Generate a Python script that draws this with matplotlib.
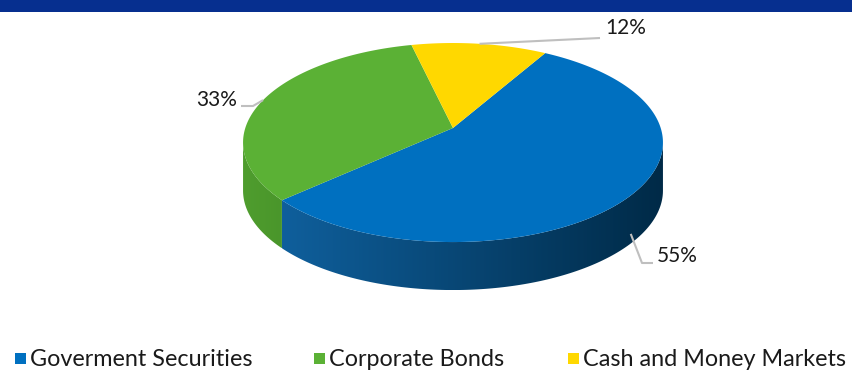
import numpy as np
import matplotlib.pyplot as plt
from matplotlib.patches import Polygon, Rectangle
from matplotlib.colors import LinearSegmentedColormap

labels = ['Goverment Securities', 'Corporate Bonds', 'Cash and Money Markets']
shares = [55, 33, 12]
top_colors = ['#0070c0', '#5bb135', '#ffd800']
side_colors = [('#0f5f9c', '#002a47'), ('#4f9d2e', '#4a962b'), ('#d9b800', '#b89c00')]

W, H = 852, 374
fig = plt.figure(figsize=(W / 100, H / 100), dpi=100)
ax = fig.add_axes([0, 0, 1, 1])
ax.set_xlim(0, W)
ax.set_ylim(H, 0)
ax.axis('off')

# header strip
ax.add_patch(Rectangle((0, 0), W, 12, color='#062f8f', lw=0))

# pie geometry in pixels; k gives the perspective squeeze of the far side
cx, cy = 453, 128
sx, sy = 207.7, 97.4
k = 0.146
depth = 48
start = 60  # slices run clockwise from here


def rim(t):
    r = np.radians(t)
    s = 1 + k * np.sin(r)
    return cx + sx * np.cos(r) / s, cy - sy * np.sin(r) / s


spans = np.array(shares) / sum(shares) * 360
ends = start - np.cumsum(spans)
begins = ends + spans

# side walls, front half between the silhouette points
edge = np.degrees(np.arcsin(k))
for b, e, (c0, c1) in zip(begins, ends, side_colors):
    for n in (-1, 0, 1):
        lo = max(e, -180 + edge + 360 * n)
        hi = min(b, -edge + 360 * n)
        if hi <= lo:
            continue
        t = np.linspace(lo, hi, 150)
        x, y = rim(t)
        pts = np.column_stack([np.r_[x, x[::-1]], np.r_[y, (y + depth)[::-1]]])
        poly = Polygon(pts, closed=True, fc='none', ec='none')
        ax.add_patch(poly)
        cmap = LinearSegmentedColormap.from_list('side', [c0, c1])
        grad = np.linspace(0, 1, 256).reshape(1, -1)
        im = ax.imshow(grad, cmap=cmap, aspect='auto', zorder=1,
                       extent=[x.min(), x.max(), y.max() + depth, y.min()])
        im.set_clip_path(poly)

# top face
for b, e, c in zip(begins, ends, top_colors):
    t = np.linspace(e, b, 200)
    x, y = rim(t)
    pts = np.column_stack([np.r_[cx, x], np.r_[cy, y]])
    ax.add_patch(Polygon(pts, closed=True, fc=c, ec='none', zorder=2))

# value labels with leader lines
font = 'Lato'
mids = (begins + ends) / 2
mx, my = rim(mids)
label_pos = [((642, 263), (653, 263), (677, 256)),
             ((253, 106), (241, 106), (217, 100)),
             ((600, 38), (600, 38), (626, 28))]
for i, (elbow, tail, txt) in enumerate(label_pos):
    lx, ly = mx[i], my[i]
    if np.sin(np.radians(mids[i])) < 0:
        ly += depth * 0.8
    ax.plot([lx, elbow[0], tail[0]], [ly, elbow[1], tail[1]],
            color='#bfbfbf', lw=1.5, zorder=3, solid_capstyle='butt')
    ax.text(txt[0], txt[1], f'{shares[i]}%', ha='center', va='center',
            fontsize=15, family=font, color='#1a1a1a', zorder=4)

# legend
for lx, lab, c in zip([15, 314, 568], labels, top_colors):
    ax.add_patch(Rectangle((lx, 353), 11, 11, color=c, lw=0))
    ax.text(lx + 15, 359.5, lab, ha='left', va='center', fontsize=16.8,
            family=font, color='#1a1a1a')

fig.savefig('out.png', dpi=100)
